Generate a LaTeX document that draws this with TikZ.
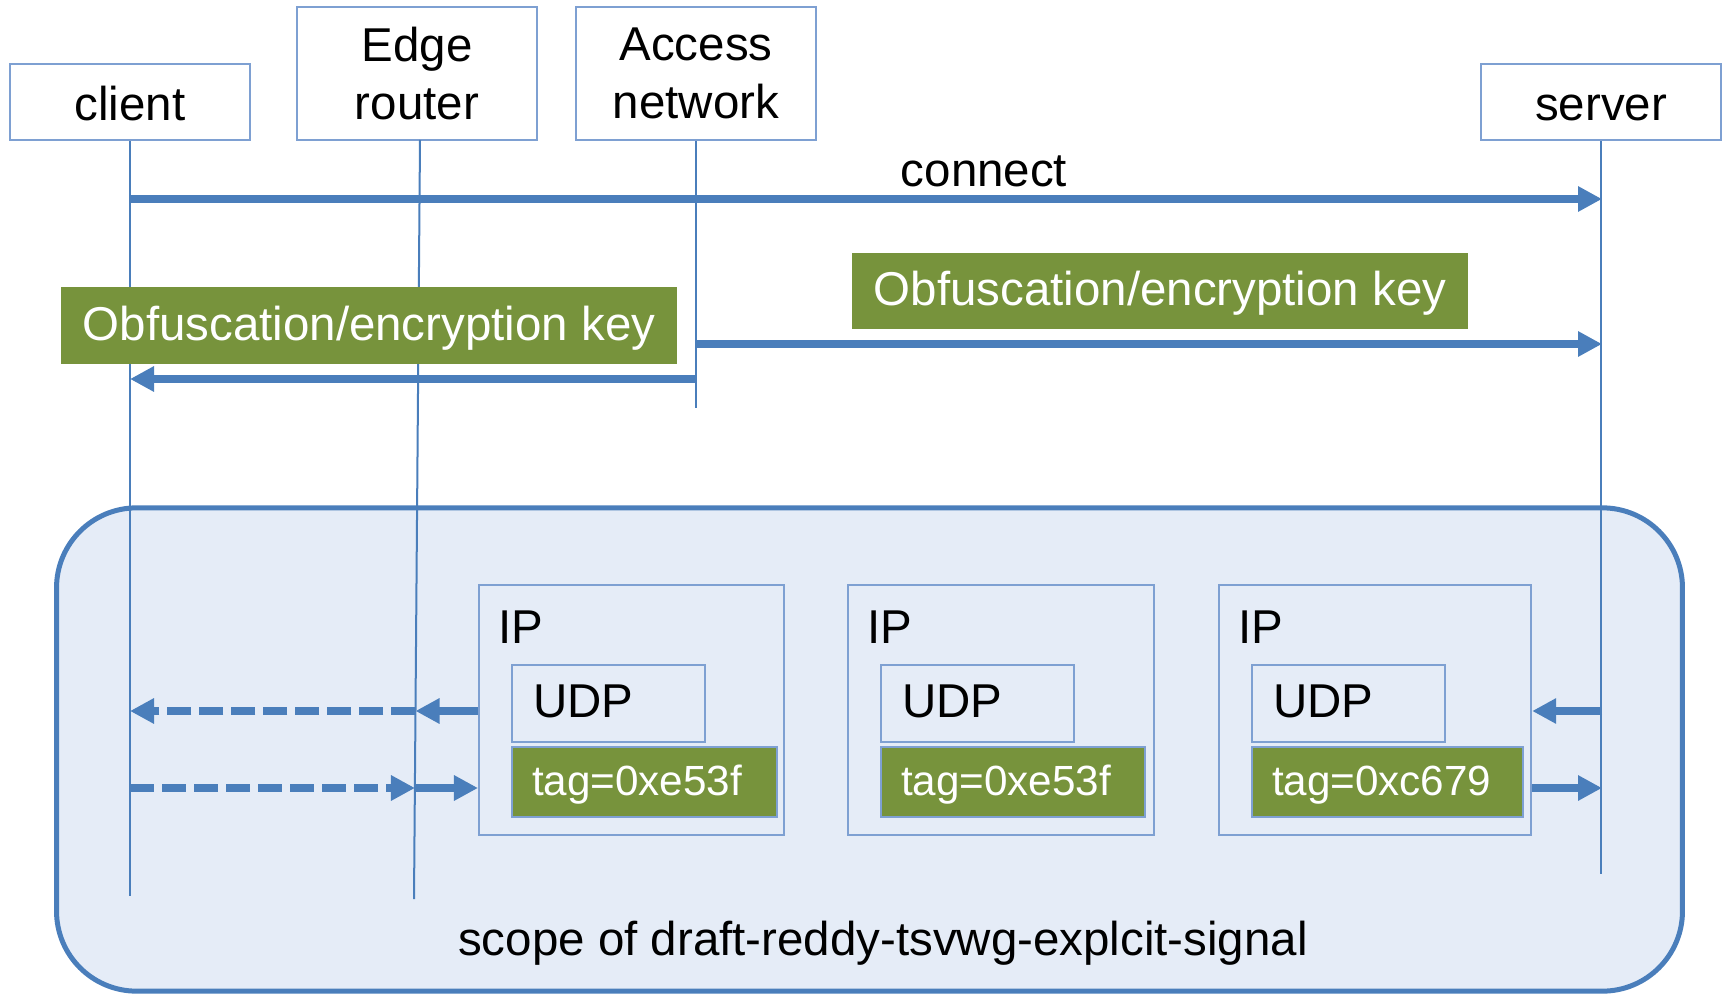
\documentclass[tikz,border=0pt]{standalone}
\usepackage{fontspec}
\setmainfont{Liberation Sans}
\usetikzlibrary{arrows.meta,positioning}

\definecolor{lineblue}{RGB}{74,126,187}
\definecolor{boxblue}{RGB}{126,160,210}
\definecolor{keygreen}{RGB}{119,147,60}
\definecolor{scopefill}{RGB}{229,236,247}

% one packet: name, left x, IP width, tag text, tag text width
\newcommand{\packet}[5]{%
    \node[ipbox, minimum width=#3] (#1) at (#2,584) {};%
    \node[anchor=north west, inner sep=0pt] (#1-ip) at ([shift={(20,26)}]#1.north west) {IP};%
    \node[udpbox] (#1-udp) at ([shift={(33,80)}]#1.north west) {UDP};%
    \node[tagbox, text width=#5] (#1-tag) at ([shift={(0,3)}]#1-udp.south west) {#4};%
}

\begin{document}
\begin{tikzpicture}[x=0.01cm, y=-0.01cm,
    font=\fontsize{13.5}{16.5}\selectfont,
    hdr/.style={draw=boxblue, line width=0.02cm, fill=white, minimum width=2.4cm, align=center, inner sep=0pt,
        execute at begin node=\rule{0pt}{0.8em}},
    life/.style={draw=lineblue, line width=0.02cm},
    sig/.style={draw=lineblue, line width=0.075cm, -{Triangle[length=2.4mm,width=2.4mm]}},
    dashsig/.style={sig, dash pattern=on 0.24cm off 0.08cm},
    keybox/.style={fill=keygreen, text=white, minimum width=6.15cm, minimum height=0.76cm, inner sep=0pt,
        text height=0.84em, text depth=0pt},
    ipbox/.style={draw=boxblue, line width=0.02cm, minimum height=2.5cm, inner sep=0pt, anchor=north west},
    udpbox/.style={draw=boxblue, line width=0.02cm, inner xsep=0.21cm, inner ysep=0pt, text width=1.51cm, minimum height=0.77cm,
        text height=0.79em, text depth=0pt, align=left, anchor=north west},
    tagbox/.style={draw=boxblue, line width=0.02cm, fill=keygreen, text=white, font=\fontsize{12}{14}\selectfont, inner xsep=0.2cm, inner ysep=0pt,
        minimum height=0.7cm, text height=0.78em, text depth=0pt, align=left, anchor=north west}]

    \useasboundingbox (0,0) rectangle (1727,994);

    % --- Scope of the draft ---
    \node[draw=lineblue, fill=scopefill, line width=0.05cm, rounded corners=0.8cm, minimum width=16.25cm, minimum height=4.83cm, inner sep=0pt] (scope) at (869.5,749.5) {};
    \node[anchor=base] (scopelbl) at (883,955) {scope of draft-reddy-tsvwg-explcit-signal};

    % --- Column headers ---
    \node[hdr, minimum height=0.76cm] (client) at (130,102) {client};
    \node[hdr, minimum height=1.33cm] (edge) at (417,73.5) {Edge\\router};
    \node[hdr, minimum height=1.33cm] (access) at (696,73.5) {Access\\network};
    \node[hdr, minimum height=0.76cm] (server) at (1601,102) {server};

    % lifeline points
    \coordinate (cl-end) at (130,896);
    \coordinate (er-top) at (420,140);
    \coordinate (er-end) at (414,899);
    \coordinate (an-end) at (696,408);
    \coordinate (sv-end) at (1601,874);

    \coordinate (cl-c) at (130,199);   \coordinate (sv-c) at (1602,199);
    \coordinate (an-k1) at (696,344);  \coordinate (sv-k1) at (1602,344);
    \coordinate (an-k2) at (696,379);  \coordinate (cl-k2) at (130,379);
    \coordinate (cl-a) at (130,711);   \coordinate (er-a) at (415.5,711);  \coordinate (sv-a) at (1602,711);
    \coordinate (cl-b) at (130,788);   \coordinate (er-b) at (415,788);    \coordinate (sv-b) at (1602,788);

    % --- Lifelines ---
    \draw[life] (client.south) -- (cl-end);
    \draw[life] (er-top) -- (er-end);
    \draw[life] (access.south) -- (an-end);
    \draw[life] (server.south) -- (sv-end);

    % --- Connect and key exchange ---
    \draw[sig] (cl-c) -- (sv-c);
    \node[anchor=base] (conlbl) at (984,187) {connect};

    \node[keybox] (keyR) at (1160,291) {Obfuscation/encryption key};
    \draw[sig] (an-k1) -- (sv-k1);

    \node[keybox] (keyL) at (369,325.5) {Obfuscation/encryption key};
    \draw[sig] (an-k2) -- (cl-k2);

    % --- Packets ---
    \packet{ip1}{478}{3.05cm}{tag=0xe53f}{2.25cm}
    \packet{ip2}{847}{3.06cm}{tag=0xe53f}{2.24cm}
    \packet{ip3}{1218}{3.12cm}{tag=0xc679}{2.31cm}

    % --- Packet flow ---
    \draw[sig] (ip1.west |- er-a) -- (er-a);
    \draw[dashsig] (er-a) -- (cl-a);
    \draw[dashsig] (cl-b) -- (er-b);
    \draw[sig] (er-b) -- (ip1.west |- er-b);
    \draw[sig] (sv-a) -- (ip3.east |- sv-a);
    \draw[sig] (ip3.east |- sv-b) -- (sv-b);

\end{tikzpicture}
\end{document}
